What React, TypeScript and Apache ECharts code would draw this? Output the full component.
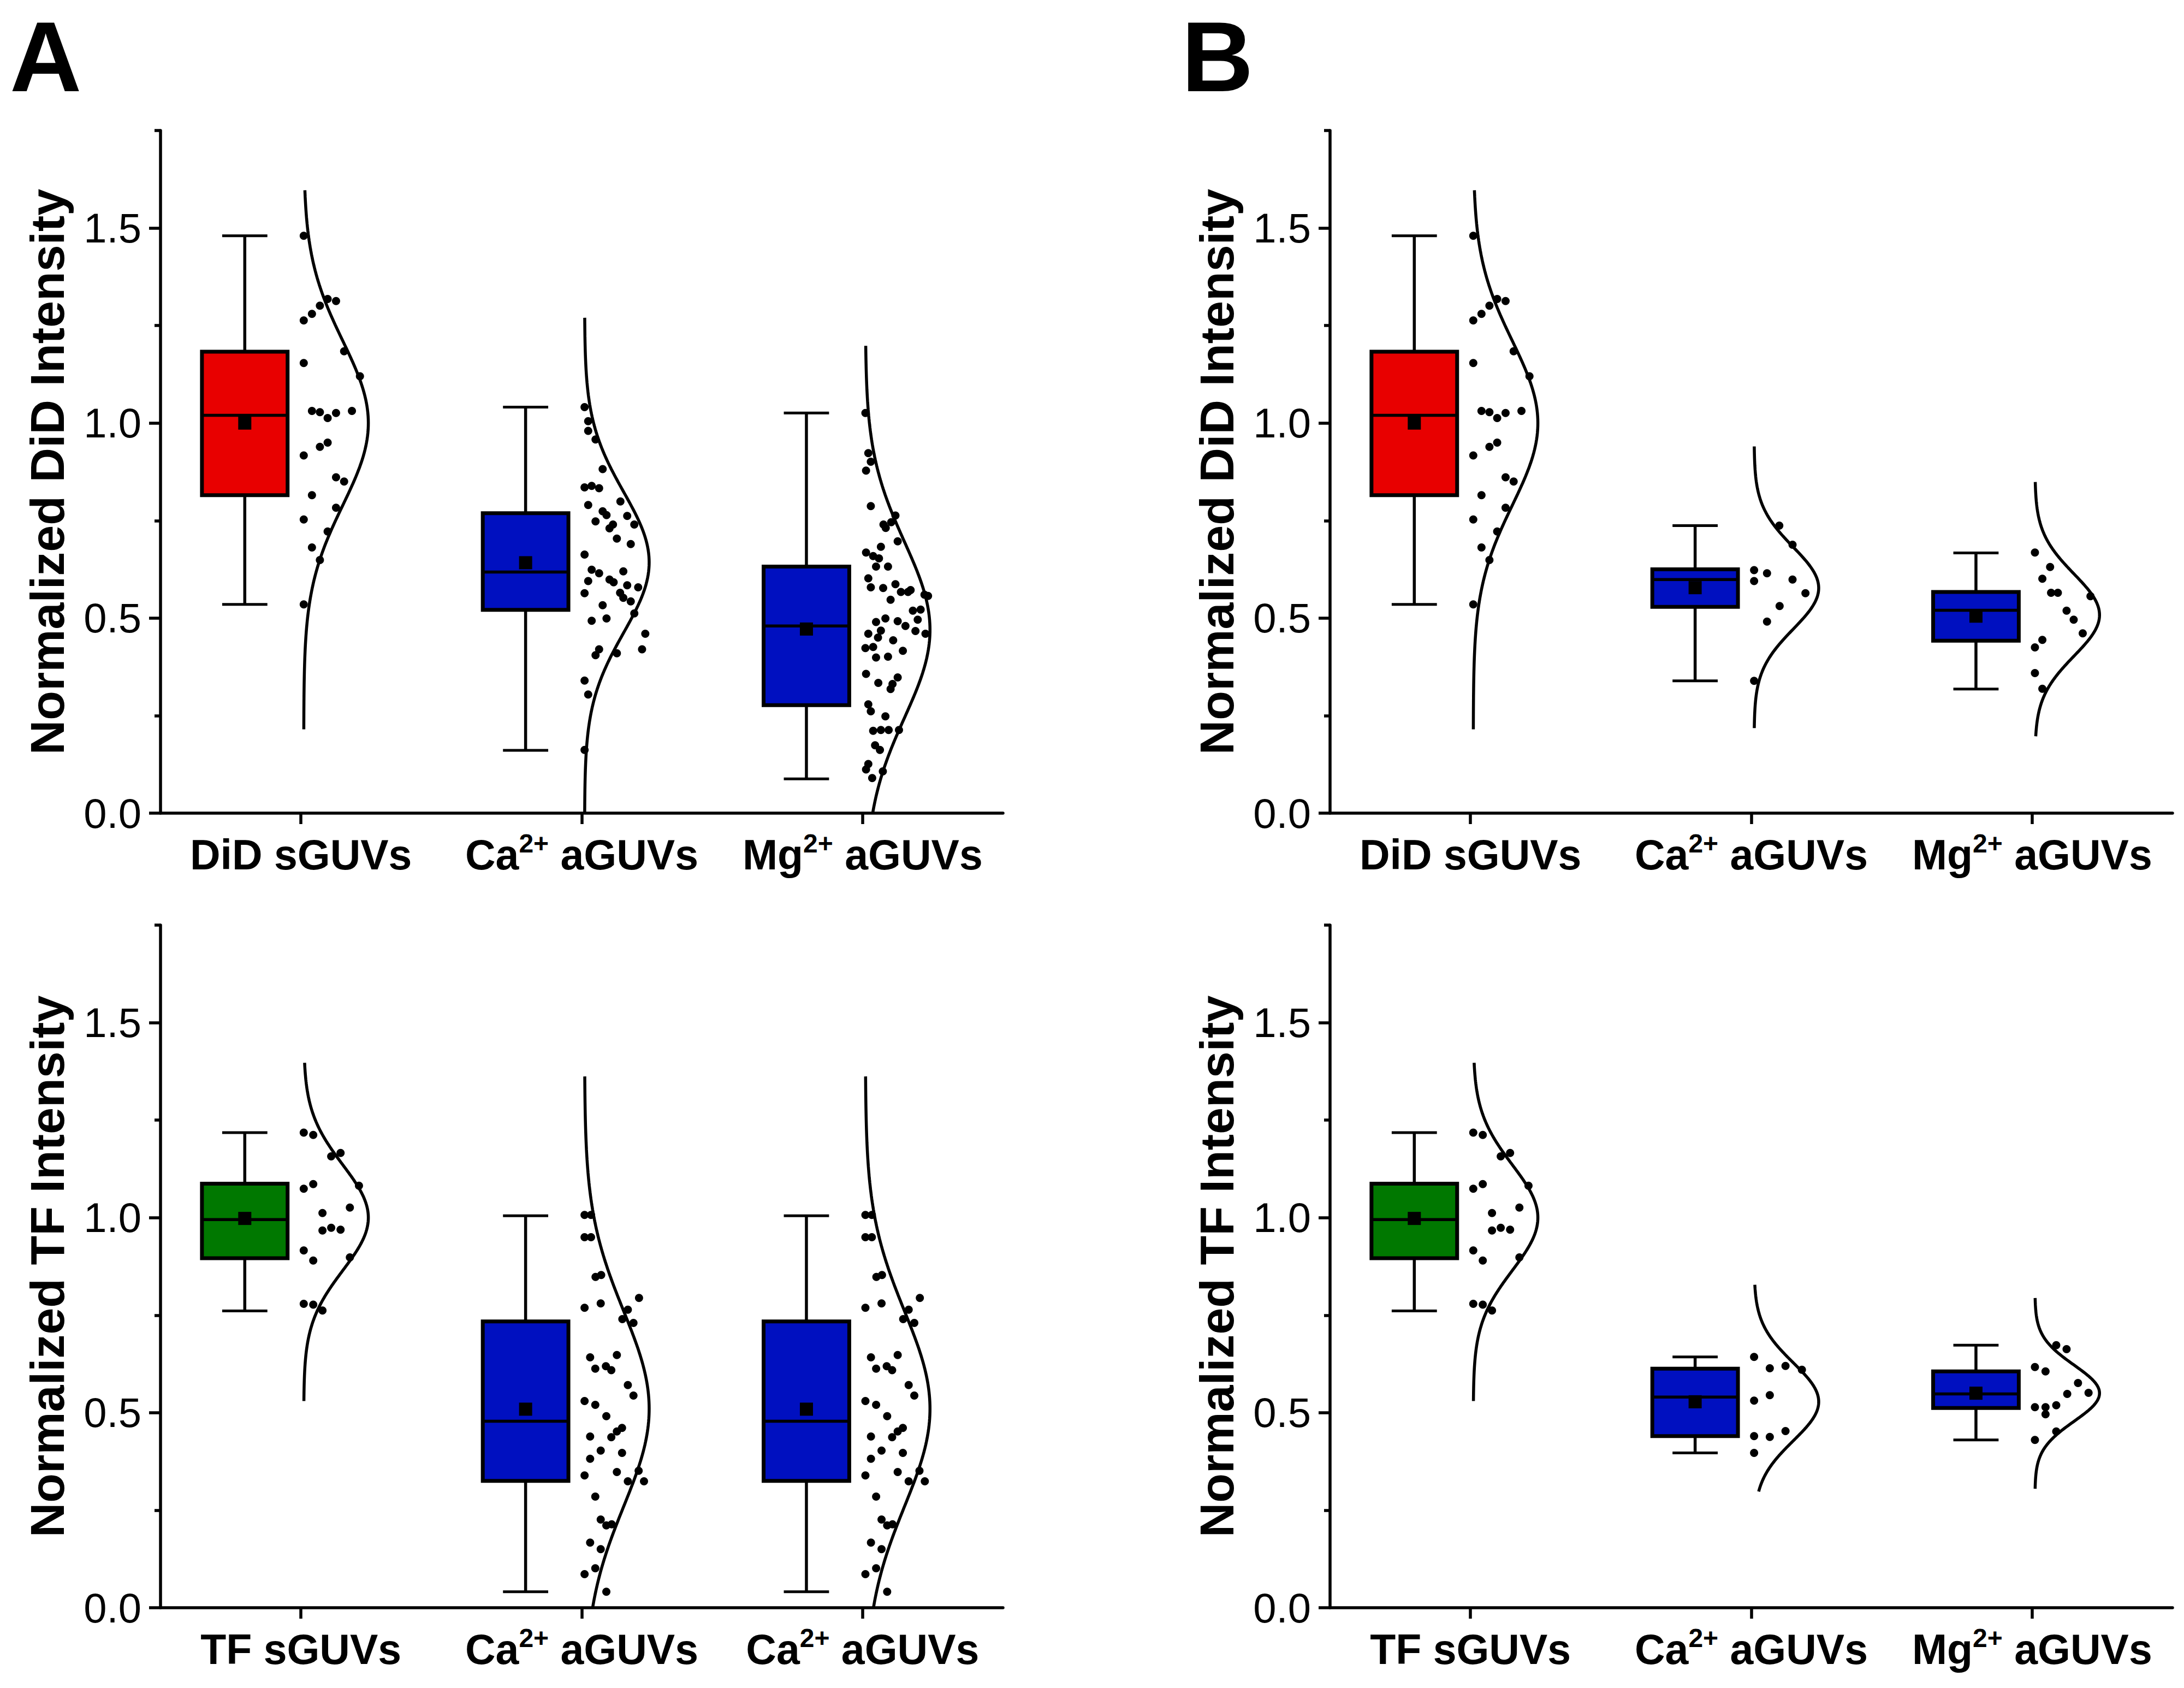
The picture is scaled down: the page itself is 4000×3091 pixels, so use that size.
import React, { useEffect, useRef } from 'react';
import * as echarts from 'echarts';

// ---------- categories & titles ----------
const CATS_A_TOP = ['DiD sGUVs', 'Ca{sup|2+} aGUVs', 'Mg{sup|2+} aGUVs'];
const CATS_A_BOT = ['TF sGUVs', 'Ca{sup|2+} aGUVs', 'Ca{sup|2+} aGUVs'];
const CATS_B_TOP = ['DiD sGUVs', 'Ca{sup|2+} aGUVs', 'Mg{sup|2+} aGUVs'];
const CATS_B_BOT = ['TF sGUVs', 'Ca{sup|2+} aGUVs', 'Mg{sup|2+} aGUVs'];
const TITLE_DID = 'Normalized DiD Intensity';
const TITLE_TF = 'Normalized TF Intensity';
const Y_LABELS = [0, 0.5, 1.0, 1.5];
const Y_MINOR = [0.25, 0.75, 1.25, 1.75];

// ---------- box stats: [low whisker, Q1, median, Q3, high whisker, mean] ----------
const BOX_DID_S = [0.535, 0.815, 1.02, 1.183, 1.48, 1.0];
const BOX_A_CA_DID = [0.161, 0.521, 0.618, 0.769, 1.041, 0.642];
const BOX_A_MG_DID = [0.088, 0.277, 0.48, 0.632, 1.026, 0.472];
const BOX_TF_S = [0.761, 0.896, 0.995, 1.087, 1.218, 0.998];
const BOX_A_CA_TF = [0.041, 0.325, 0.478, 0.734, 1.005, 0.509];
const BOX_B_CA_DID = [0.339, 0.529, 0.599, 0.625, 0.737, 0.578];
const BOX_B_MG_DID = [0.318, 0.442, 0.52, 0.567, 0.667, 0.505];
const BOX_B_CA_TF = [0.397, 0.44, 0.54, 0.613, 0.643, 0.528];
const BOX_B_MG_TF = [0.43, 0.512, 0.548, 0.606, 0.673, 0.55];

// ---------- normal curves: [mean, sd, from, to] ----------
const CURVE_DID_S = [1.0, 0.21, 0.215, 1.597];
const CURVE_A_CA_DID = [0.643, 0.18, 0.0, 1.27];
const CURVE_A_MG_DID = [0.47, 0.225, 0.0, 1.198];
const CURVE_TF_S = [1.0, 0.135, 0.53, 1.397];
const CURVE_A_CA_TF = [0.51, 0.25, 0.0, 1.362];
const CURVE_B_CA_DID = [0.577, 0.105, 0.218, 0.94];
const CURVE_B_MG_DID = [0.508, 0.105, 0.197, 0.849];
const CURVE_B_CA_TF = [0.528, 0.1, 0.298, 0.828];
const CURVE_B_MG_TF = [0.55, 0.072, 0.305, 0.794];

// ---------- data points: [value, jitter (0..1 of curve height)] ----------
const PTS_DID_S = [
  [1.48, 0], [1.263, 0], [1.28, 0.127], [1.301, 0.25], [1.318, 0.37], [1.313, 0.5], [1.184, 0.625],
  [1.154, 0], [1.12, 0.87], [1.031, 0.127], [1.028, 0.25], [1.013, 0.37], [1.026, 0.5], [1.031, 0.746],
  [0.939, 0.25], [0.95, 0.37], [0.917, 0], [0.861, 0.5], [0.85, 0.625], [0.815, 0.127], [0.783, 0.5],
  [0.753, 0], [0.722, 0.37], [0.681, 0.127], [0.649, 0.25], [0.535, 0],
];
const PTS_A_CA_DID = [
  [1.041, 0], [1.005, 0.056], [0.98, 0.056], [0.958, 0.17], [0.882, 0.28], [0.835, 0], [0.839, 0.11],
  [0.833, 0.225], [0.79, 0.056], [0.799, 0.555], [0.774, 0.28], [0.764, 0.34], [0.762, 0.66], [0.748, 0.17],
  [0.74, 0.44], [0.73, 0.386], [0.74, 0.77], [0.704, 0.5], [0.69, 0.715], [0.663, 0], [0.624, 0.11],
  [0.615, 0.225], [0.62, 0.6], [0.595, 0.056], [0.599, 0.386], [0.592, 0.45], [0.584, 0.66], [0.579, 0.83],
  [0.564, 0], [0.565, 0.55], [0.552, 0.6], [0.543, 0.715], [0.533, 0.28], [0.512, 0.77], [0.493, 0.11],
  [0.499, 0.34], [0.46, 0.94], [0.42, 0.89], [0.42, 0.225], [0.405, 0.17], [0.41, 0.5], [0.34, 0],
  [0.304, 0.056], [0.162, 0],
];
const PTS_A_MG_DID = [
  [1.026, 0], [0.923, 0.045], [0.901, 0.084], [0.878, 0.01], [0.787, 0.084], [0.763, 0.465], [0.746, 0.4],
  [0.74, 0.28], [0.731, 0.315], [0.697, 0.5], [0.683, 0.24], [0.668, 0.01], [0.659, 0.12], [0.653, 0.21],
  [0.632, 0.165], [0.632, 0.35], [0.602, 0.045], [0.579, 0.084], [0.577, 0.275], [0.587, 0.465], [0.567, 0.55],
  [0.567, 0.66], [0.572, 0.7], [0.56, 0.915], [0.557, 0.97], [0.547, 0.39], [0.519, 0.735], [0.522, 0.855],
  [0.496, 0.81], [0.49, 0.165], [0.499, 0.31], [0.492, 0.5], [0.48, 0.62], [0.467, 0.775], [0.46, 0.93],
  [0.468, 0.24], [0.46, 0.045], [0.45, 0.195], [0.443, 0.43], [0.423, 0], [0.426, 0.12], [0.399, 0.165],
  [0.401, 0.35], [0.416, 0.58], [0.357, 0.01], [0.334, 0.2], [0.348, 0.5], [0.331, 0.42], [0.318, 0.39],
  [0.279, 0.045], [0.261, 0.084], [0.248, 0.31], [0.211, 0.12], [0.213, 0.24], [0.213, 0.36], [0.213, 0.52],
  [0.174, 0.15], [0.162, 0.225], [0.126, 0.045], [0.112, 0.01], [0.107, 0.27], [0.09, 0.105],
];
const PTS_TF_S = [
  [1.218, 0], [1.212, 0.147], [1.157, 0.425], [1.166, 0.57], [1.082, 0.855], [1.074, 0], [1.086, 0.147],
  [1.026, 0.714], [1.012, 0.29], [0.967, 0.29], [0.974, 0.425], [0.969, 0.57], [0.916, 0], [0.89, 0.147],
  [0.898, 0.714], [0.779, 0], [0.777, 0.147], [0.762, 0.29],
];
const PTS_A_CA_TF = [
  [1.007, 0], [1.007, 0.1], [0.95, 0], [0.95, 0.1], [0.848, 0.17], [0.853, 0.257], [0.794, 0.843],
  [0.769, 0], [0.78, 0.25], [0.764, 0.67], [0.74, 0.585], [0.73, 0.757], [0.642, 0.086], [0.648, 0.5],
  [0.613, 0.166], [0.619, 0.33], [0.609, 0.414], [0.571, 0.67], [0.544, 0.757], [0.53, 0], [0.52, 0.166],
  [0.491, 0.337], [0.461, 0.58], [0.452, 0.5], [0.437, 0.414], [0.439, 0.086], [0.403, 0.25], [0.397, 0.58],
  [0.382, 0.086], [0.339, 0], [0.348, 0.5], [0.324, 0.67], [0.351, 0.837], [0.324, 0.92], [0.285, 0.166],
  [0.226, 0.25], [0.211, 0.337], [0.214, 0.42], [0.167, 0.086], [0.15, 0.25], [0.086, 0], [0.101, 0.166],
  [0.041, 0.337],
];
const PTS_B_CA_DID = [
  [0.737, 0.39], [0.688, 0.595], [0.623, 0], [0.615, 0.2], [0.595, 0], [0.599, 0.595], [0.564, 0.795],
  [0.531, 0.395], [0.491, 0.2], [0.339, 0],
];
const PTS_B_MG_DID = [
  [0.668, 0], [0.631, 0.235], [0.601, 0.115], [0.565, 0.25], [0.565, 0.355], [0.556, 0.86], [0.519, 0.49],
  [0.496, 0.6], [0.461, 0.74], [0.444, 0.115], [0.425, 0], [0.359, 0], [0.319, 0.115],
];
const PTS_B_CA_TF = [
  [0.643, 0], [0.614, 0.243], [0.62, 0.486], [0.61, 0.74], [0.545, 0.243], [0.531, 0], [0.44, 0],
  [0.438, 0.243], [0.453, 0.486], [0.397, 0],
];
const PTS_B_MG_TF = [
  [0.673, 0.33], [0.663, 0.49], [0.617, 0], [0.606, 0.164], [0.576, 0.667], [0.548, 0.5], [0.551, 0.83],
  [0.514, 0], [0.514, 0.164], [0.496, 0.164], [0.519, 0.33], [0.452, 0.33], [0.43, 0],
];

// ---------- styles / layout ----------
const RED = '#E80000';
const BLUE = '#0010C0';
const GREEN = '#007800';
const FONT = '"Liberation Sans", Arial, Helvetica, sans-serif';
const GRID_W = 1543;
const GRID_H = 1250;
const BOX_OFFSET = -0.2; // category units
const BOX_WIDTH = 0.305;
const CAP_WIDTH = 0.161;
const CURVE_BASE = 0.01;
const CURVE_W = 0.23;

const PANELS = [
  {
    left: 294, top: 239, cats: CATS_A_TOP, title: TITLE_DID,
    boxes: [BOX_DID_S, BOX_A_CA_DID, BOX_A_MG_DID],
    curves: [CURVE_DID_S, CURVE_A_CA_DID, CURVE_A_MG_DID],
    points: [PTS_DID_S, PTS_A_CA_DID, PTS_A_MG_DID],
    fills: [RED, BLUE, BLUE],
  },
  {
    left: 294, top: 1694, cats: CATS_A_BOT, title: TITLE_TF,
    boxes: [BOX_TF_S, BOX_A_CA_TF, BOX_A_CA_TF],
    curves: [CURVE_TF_S, CURVE_A_CA_TF, CURVE_A_CA_TF],
    points: [PTS_TF_S, PTS_A_CA_TF, PTS_A_CA_TF],
    fills: [GREEN, BLUE, BLUE],
  },
  {
    left: 2436, top: 239, cats: CATS_B_TOP, title: TITLE_DID,
    boxes: [BOX_DID_S, BOX_B_CA_DID, BOX_B_MG_DID],
    curves: [CURVE_DID_S, CURVE_B_CA_DID, CURVE_B_MG_DID],
    points: [PTS_DID_S, PTS_B_CA_DID, PTS_B_MG_DID],
    fills: [RED, BLUE, BLUE],
  },
  {
    left: 2436, top: 1694, cats: CATS_B_BOT, title: TITLE_TF,
    boxes: [BOX_TF_S, BOX_B_CA_TF, BOX_B_MG_TF],
    curves: [CURVE_TF_S, CURVE_B_CA_TF, CURVE_B_MG_TF],
    points: [PTS_TF_S, PTS_B_CA_TF, PTS_B_MG_TF],
    fills: [GREEN, BLUE, BLUE],
  },
];

function curveData(k: number, c: number[]) {
  const [mu, sd, from, to] = c;
  const n = 160;
  const out: number[][] = [];
  for (let j = 0; j <= n; j++) {
    const y = from + ((to - from) * j) / n;
    const z = (y - mu) / sd;
    out.push([k + CURVE_BASE + CURVE_W * Math.exp(-0.5 * z * z), y]);
  }
  return out;
}

function buildOption() {
  const grid: any[] = [];
  const xAxis: any[] = [];
  const yAxis: any[] = [];
  const series: any[] = [];

  PANELS.forEach((p, pi) => {
    grid.push({
      left: p.left, top: p.top, width: GRID_W, height: GRID_H,
      containLabel: false, outerBoundsMode: 'none', show: false,
    });
    xAxis.push({
      type: 'category', gridIndex: pi, data: p.cats, position: 'bottom',
      boundaryGap: true,
      axisLine: { show: true, onZero: false, lineStyle: { color: '#000', width: 5.5 } },
      axisTick: { show: true, alignWithLabel: true, length: 20, lineStyle: { color: '#000', width: 5.5 } },
      splitLine: { show: false },
      axisLabel: {
        interval: 0, color: '#000', fontFamily: FONT, fontSize: 77, fontWeight: 'bold',
        lineHeight: 90, margin: 31,
        rich: {
          sup: { fontFamily: FONT, fontSize: 48, fontWeight: 'bold', color: '#000', lineHeight: 34, verticalAlign: 'top' },
        },
      },
    });
    xAxis.push({
      type: 'value', gridIndex: pi, min: -0.5, max: 2.5, show: false,
      axisLine: { onZero: false },
    });
    yAxis.push({
      type: 'value', gridIndex: pi, min: 0, max: 1.75, position: 'left',
      name: p.title, nameLocation: 'middle', nameRotate: 90, nameGap: 164,
      nameTextStyle: { color: '#000', fontFamily: FONT, fontSize: 88, fontWeight: 'bold', lineHeight: 88 },
      axisLine: { show: true, onZero: false, lineStyle: { color: '#000', width: 5.5 } },
      axisTick: { show: true, customValues: Y_LABELS, length: 21, lineStyle: { color: '#000', width: 5.5 } },
      axisLabel: {
        customValues: Y_LABELS, color: '#000', fontFamily: FONT, fontSize: 76, margin: 35,
        formatter: (v: number) => v.toFixed(1),
      },
      splitLine: { show: false },
    });
    yAxis.push({
      type: 'value', gridIndex: pi, min: 0, max: 1.75, position: 'left',
      axisLine: { show: false, onZero: false },
      axisTick: { show: true, customValues: Y_MINOR, length: 11, lineStyle: { color: '#000', width: 5.5 } },
      axisLabel: { show: false },
      splitLine: { show: false },
    });

    const xi = pi * 2 + 1;
    const yi = pi * 2;
    const fills = p.fills;

    series.push({
      type: 'custom', xAxisIndex: xi, yAxisIndex: yi, z: 3,
      data: p.boxes.map((b, k) => [k, ...b]),
      encode: { x: 0, y: [1, 2, 3, 4, 5, 6] },
      renderItem: (params: any, api: any) => {
        const k = api.value(0);
        const cx = k + BOX_OFFSET;
        const lo = api.coord([cx, api.value(1)]);
        const q1 = api.coord([cx, api.value(2)]);
        const med = api.coord([cx, api.value(3)]);
        const q3 = api.coord([cx, api.value(4)]);
        const hi = api.coord([cx, api.value(5)]);
        const mean = api.coord([cx, api.value(6)]);
        const bw = api.size([BOX_WIDTH, 0])[0];
        const cw = api.size([CAP_WIDTH, 0])[0];
        const line = (x1: number, y1: number, x2: number, y2: number, w: number) => ({
          type: 'line', shape: { x1, y1, x2, y2 }, style: { stroke: '#000', lineWidth: w },
        });
        return {
          type: 'group',
          children: [
            line(hi[0], hi[1], q3[0], q3[1], 5.5),
            line(q1[0], q1[1], lo[0], lo[1], 5.5),
            line(hi[0] - cw / 2, hi[1], hi[0] + cw / 2, hi[1], 5),
            line(lo[0] - cw / 2, lo[1], lo[0] + cw / 2, lo[1], 5),
            {
              type: 'rect',
              shape: { x: q3[0] - bw / 2, y: q3[1], width: bw, height: q1[1] - q3[1] },
              style: { fill: fills[params.dataIndex], stroke: '#000', lineWidth: 7 },
            },
            line(med[0] - bw / 2, med[1], med[0] + bw / 2, med[1], 5.5),
            {
              type: 'rect',
              shape: { x: mean[0] - 12, y: mean[1] - 12, width: 24, height: 24 },
              style: { fill: '#000' },
            },
          ],
        };
      },
    });

    p.curves.forEach((c, k) => {
      series.push({
        type: 'line', xAxisIndex: xi, yAxisIndex: yi, z: 2,
        data: curveData(k, c), showSymbol: false, smooth: false,
        lineStyle: { color: '#000', width: 5.5, opacity: 1 }, silent: true,
      });
    });

    p.points.forEach((pts, k) => {
      series.push({
        type: 'scatter', xAxisIndex: xi, yAxisIndex: yi, z: 4,
        data: pts.map(([v, off]) => [k + CURVE_BASE + off * CURVE_W, v]),
        symbol: 'circle', symbolSize: 15,
        itemStyle: { color: '#000', opacity: 1 }, silent: true,
      });
    });
  });

  return {
    animation: false,
    backgroundColor: '#fff',
    textStyle: { fontFamily: FONT },
    grid, xAxis, yAxis, series,
    graphic: [
      {
        type: 'text', x: 18, y: 104,
        style: { text: 'A', fontFamily: FONT, fontSize: 182, lineHeight: 182, fontWeight: 'bold', fill: '#000', verticalAlign: 'middle', align: 'left' },
      },
      {
        type: 'text', x: 2164, y: 104,
        style: { text: 'B', fontFamily: FONT, fontSize: 182, lineHeight: 182, fontWeight: 'bold', fill: '#000', verticalAlign: 'middle', align: 'left' },
      },
    ],
  };
}

export default function App() {
  const ref = useRef<HTMLDivElement>(null);
  useEffect(() => {
    if (!ref.current) return;
    const chart = echarts.init(ref.current, undefined, { renderer: 'svg' });
    chart.setOption(buildOption() as any);
    return () => chart.dispose();
  }, []);
  return (
    <div
      ref={ref}
      style={{ position: 'absolute', left: 0, top: 0, width: 4000, height: 3091, background: '#fff' }}
    />
  );
}
